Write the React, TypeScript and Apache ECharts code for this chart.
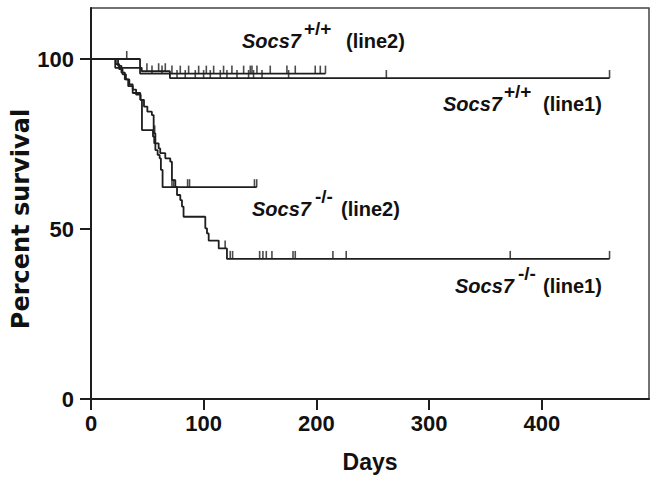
import React, { useEffect, useRef } from "react";
import * as echarts from "echarts";

// ---- data ----
const xTickValues = [0, 100, 200, 300, 400];
const yTickValues = [0, 50, 100];

// Kaplan-Meier steps: [day, percent surviving from that day on]
const wtLine1Steps: [number, number][] = [[0, 100], [21.5, 97.4], [45, 96.4], [70, 94.4]];
const wtLine1End = 460;
const wtLine1Censored = [49.6, 60, 65.9, 76.3, 83.6, 92.5, 99.9, 105.8, 114.7, 120.6, 129.5, 139.8, 144.2, 151.7, 175.3, 262, 460];

const wtLine2Steps: [number, number][] = [[0, 100], [43.5, 95.7]];
const wtLine2End = 208;
const wtLine2Censored = [31.7, 54.1, 63, 71.8, 79.2, 86.6, 95.5, 102.3, 108.8, 117.6, 125, 135.4, 141.3, 142.8, 147.2, 159, 173.8, 181.2, 198.9, 203.4, 208];

const koLine1Steps: [number, number][] = [
  [0, 100], [22, 98.5], [25, 97], [28, 95.5], [31, 94], [34, 92.5], [37, 91], [40, 89.5], [44, 88],
  [47, 86], [50, 84.5], [54, 83.5], [55.6, 78.1], [57.1, 75.2], [60, 73.7], [61.4, 72.3], [65.9, 70.8],
  [70.3, 69.8], [71.8, 64.4], [74.8, 62.4], [76.3, 60], [79.2, 58.5], [80.7, 56.6], [82.1, 53.6],
  [101.4, 50.2], [102.9, 48.7], [104.4, 46.6], [113.3, 44.3], [120.6, 41.2],
];
const koLine1End = 460;
const koLine1Censored = [56.5, 119, 123.5, 125.6, 149.6, 152.5, 155.5, 160.5, 179.2, 181.2, 214.6, 226.4, 371.9, 460];

const koLine2Steps: [number, number][] = [
  [0, 100], [24, 98], [27, 96], [30, 94], [33, 92], [37, 90], [43.7, 88], [45.2, 79.1], [55, 77.2],
  [56.1, 75.2], [57.1, 73.2], [59.1, 71.8], [60.9, 70.8], [62, 67.4], [63.5, 62.3],
];
const koLine2End = 147;
const koLine2Censored = [71.8, 73.3, 85.7, 87.4, 145, 147];

const yAxisTitle = "Percent survival";
const xAxisTitle = "Days";

// ---- helpers ----
function stepLine(steps: [number, number][], end: number): [number, number][] {
  return [...steps, [end, steps[steps.length - 1][1]]];
}
function survivalAt(steps: [number, number][], t: number): number {
  let v = steps[0][1];
  for (const [d, s] of steps) if (d <= t) v = s;
  return v;
}
function censorPoints(steps: [number, number][], days: number[]): [number, number][] {
  return days.map((d) => [d, survivalAt(steps, d)]);
}

const INK = "#1e1e1e";
const groups: { steps: [number, number][]; end: number; cens: number[] }[] = [
  { steps: wtLine1Steps, end: wtLine1End, cens: wtLine1Censored },
  { steps: wtLine2Steps, end: wtLine2End, cens: wtLine2Censored },
  { steps: koLine1Steps, end: koLine1End, cens: koLine1Censored },
  { steps: koLine2Steps, end: koLine2End, cens: koLine2Censored },
];

const FONT = "Liberation Sans, Arial, Helvetica, sans-serif";

function label(x: number, baseline: number, supX: number, restX: number, sup: string, rest: string) {
  const mid = baseline - 7;
  return [
    { type: "text", style: { x, y: mid, text: "Socs7", fill: "#111", font: `italic bold 20px ${FONT}`, textVerticalAlign: "middle" } },
    { type: "text", style: { x: supX, y: mid - 13, text: sup, fill: "#111", font: `bold 19px ${FONT}`, textVerticalAlign: "middle" } },
    { type: "text", style: { x: restX, y: mid, text: rest, fill: "#111", font: `bold 20px ${FONT}`, textVerticalAlign: "middle" } },
  ];
}

export default function App() {
  const ref = useRef<HTMLDivElement>(null);
  useEffect(() => {
    if (!ref.current) return;
    const chart = echarts.init(ref.current, undefined, { renderer: "svg" });
    const series: any[] = [];
    groups.forEach((g) => {
      series.push({
        type: "line",
        step: "end",
        data: stepLine(g.steps, g.end),
        symbol: "none",
        lineStyle: { color: INK, width: 1.8 },
        z: 3,
      });
      series.push({
        type: "scatter",
        data: censorPoints(g.steps, g.cens),
        symbol: "rect",
        symbolSize: [1.6, 8],
        symbolOffset: [0, -4],
        itemStyle: { color: INK },
        z: 4,
      });
    });
    chart.setOption({
      animation: false,
      backgroundColor: "#fff",
      grid: {
        left: 91, right: 1, top: 8, bottom: 78,
        containLabel: false, outerBoundsMode: "none",
        show: true, borderColor: "#444", borderWidth: 1.5,
      },
      xAxis: {
        type: "value",
        min: 0,
        max: 495,
        interval: 100,
        name: xAxisTitle,
        nameLocation: "middle",
        nameGap: 51,
        nameTextStyle: { fontFamily: FONT, fontWeight: "bold", fontSize: 23, color: "#111" },
        axisLine: { lineStyle: { color: INK, width: 2 } },
        axisTick: { show: true, length: 11, lineStyle: { color: INK, width: 2 }, customValues: xTickValues },
        axisLabel: {
          customValues: xTickValues,
          margin: 13,
          fontFamily: FONT,
          fontWeight: "bold",
          fontSize: 22,
          color: "#111",
          formatter: (v: number) => (xTickValues.includes(v) ? String(v) : ""),
        },
        splitLine: { show: false },
      },
      yAxis: {
        type: "value",
        min: 0,
        max: 115,
        interval: 50,
        axisLine: { lineStyle: { color: INK, width: 2 } },
        axisTick: { show: true, length: 11, lineStyle: { color: INK, width: 2 }, customValues: yTickValues },
        axisLabel: {
          customValues: yTickValues,
          margin: 17,
          fontFamily: FONT,
          fontWeight: "bold",
          fontSize: 22,
          color: "#111",
          formatter: (v: number) => (yTickValues.includes(v) ? String(v) : ""),
        },
        splitLine: { show: false },
      },
      series,
      graphic: [
        {
          type: "text",
          x: 21,
          y: 219,
          rotation: Math.PI / 2,
          style: {
            text: yAxisTitle,
            fill: "#111",
            font: "bold 24px DejaVu Sans, sans-serif",
            textAlign: "center",
            textVerticalAlign: "middle",
          },
        },
        ...label(242, 48, 304, 346, "+/+", "(line2)"),
        ...label(443, 111, 504, 543, "+/+", "(line1)"),
        ...label(252, 216, 315, 341, "-/-", "(line2)"),
        ...label(455, 293, 518, 543, "-/-", "(line1)"),
      ],
    });
    return () => chart.dispose();
  }, []);
  return <div ref={ref} style={{ position: "fixed", left: 0, top: 0, width: 650, height: 477 }} />;
}
